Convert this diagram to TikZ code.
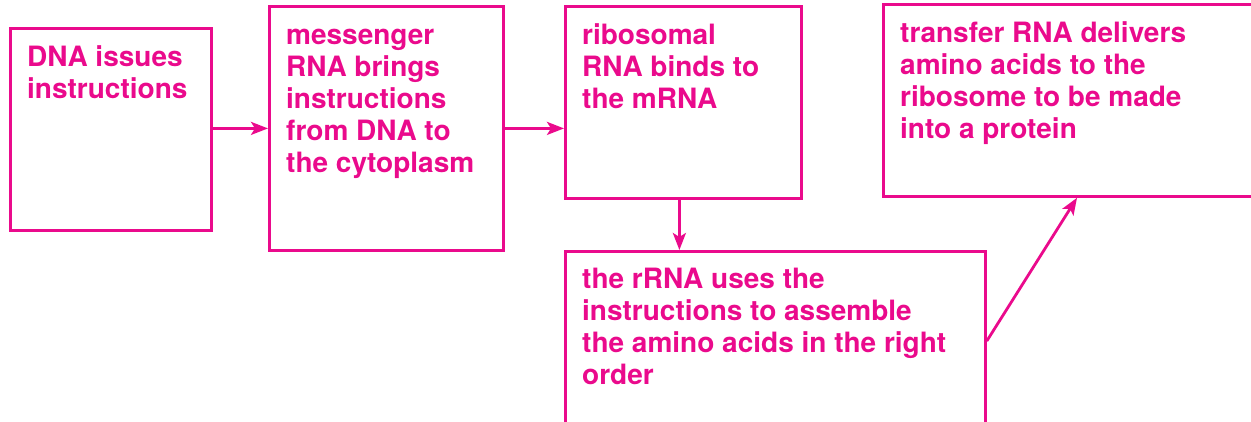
\documentclass[tikz,border=0pt]{standalone}
\usepackage{fontspec}
\setmainfont{TeX Gyre Heros}
\usetikzlibrary{arrows.meta}
\definecolor{pinkc}{RGB}{234,10,140}
\begin{document}
\begin{tikzpicture}[x=1pt,y=-1pt,
  box/.style={draw=pinkc,line width=2.8pt,rectangle,inner sep=0pt,anchor=north west},
  txt/.style={text=pinkc,inner sep=0pt,anchor=north west,align=left,
    font=\fontsize{28pt}{32pt}\selectfont\bfseries},
  arr/.style={draw=pinkc,line width=2.8pt,-{Stealth[length=17pt,width=13pt,inset=4pt]}}]
\useasboundingbox (0,0) rectangle (1251,421);
\node[box,minimum width=201pt,minimum height=202pt] (b1) at (9,27) {};
\node[box,minimum width=234pt,minimum height=244pt] (b2) at (268,5) {};
\node[box,minimum width=236pt,minimum height=192pt] (b3) at (564,5) {};
\node[box,minimum width=390pt,minimum height=192pt] (b4) at (882,3) {};
\node[box,minimum width=420pt,minimum height=200pt] (b5) at (564,250) {};
\node[txt] (t1) at ([shift={(18pt,-16.6pt)}]b1.north west) {\strut DNA issues\\instructions};
\node[txt] (t2) at ([shift={(18pt,-16.6pt)}]b2.north west) {\strut messenger\\RNA brings\\instructions\\from DNA to\\the cytoplasm};
\node[txt] (t3) at ([shift={(18pt,-16.6pt)}]b3.north west) {\strut ribosomal\\RNA binds to\\the mRNA};
\node[txt] (t4) at ([shift={(18pt,-16.6pt)}]b4.north west) {\strut transfer RNA delivers\\amino acids to the\\ribosome to be made\\into a protein};
\node[txt] (t5) at ([shift={(18pt,-15.6pt)}]b5.north west) {\strut the rRNA uses the\\instructions to assemble\\the amino acids in the right\\order};
\draw[arr] ([yshift=1pt]b1.east) -- ([yshift=1pt]b1.east -| b2.west);
\draw[arr] (b2.east) -- (b2.east -| b3.west);
\draw[arr] ([xshift=-4pt]b3.south) -- ([xshift=-4pt]b3.south |- b5.north);
\draw[arr] ([yshift=-91pt]b5.north east) -- ([xshift=195pt]b4.south west);
\end{tikzpicture}
\end{document}
